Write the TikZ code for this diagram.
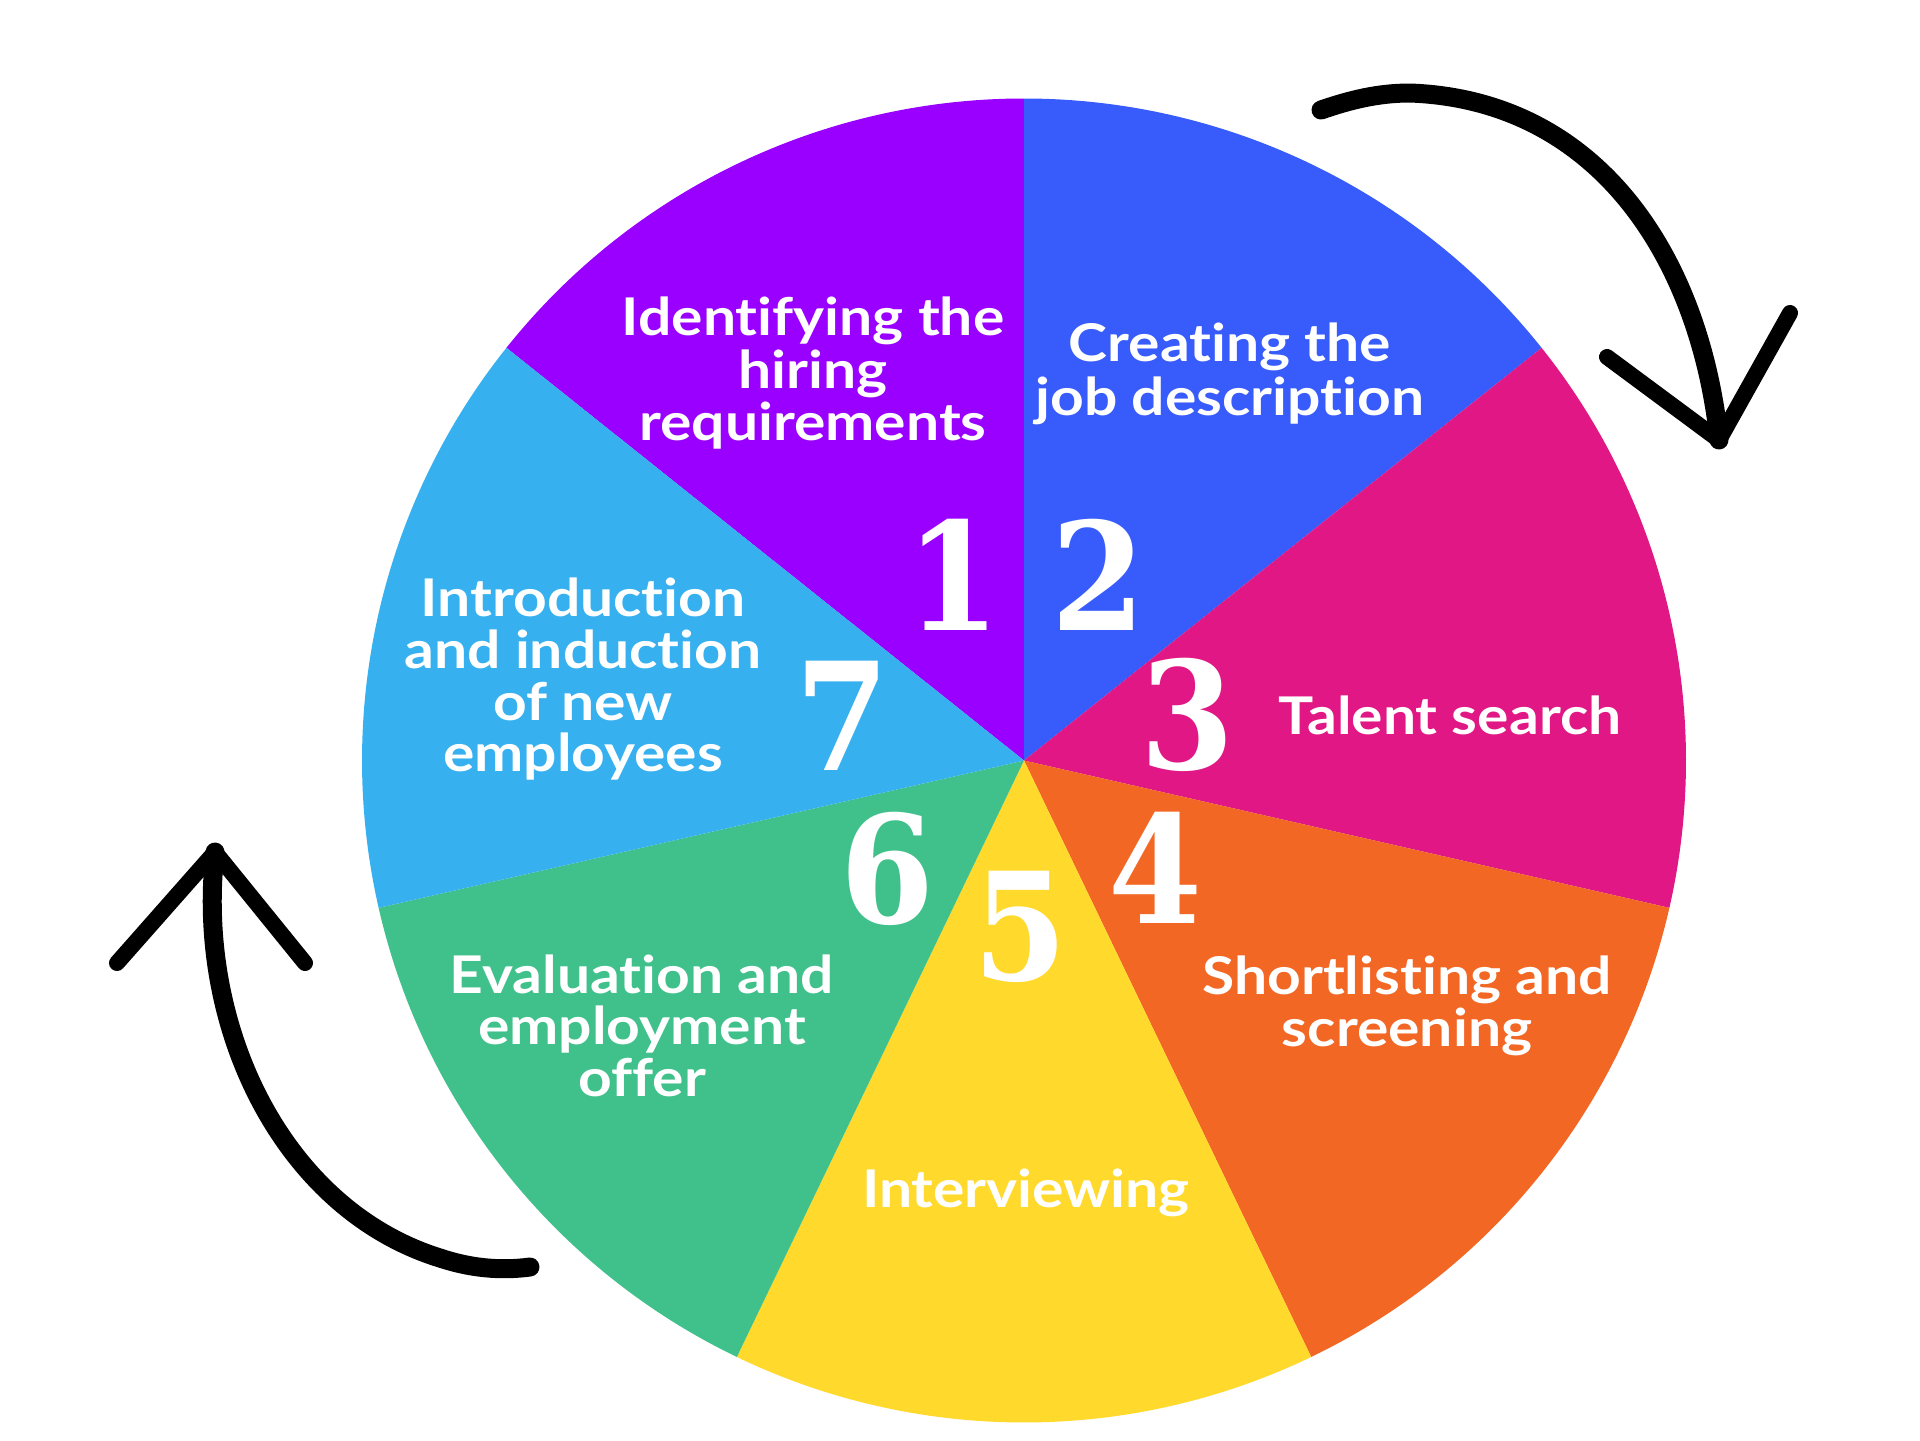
\documentclass[tikz,border=0pt]{standalone}
\usepackage{fontspec}
\newfontfamily\labelfont{Lato}[FakeStretch=1.13, Ligatures={NoCommon}]
\newfontfamily\numfont{DejaVu Serif}[FakeStretch=0.9]
\definecolor{cPurple}{HTML}{9900FF}
\definecolor{cBlue}{HTML}{375CFB}
\definecolor{cMagenta}{HTML}{E01784}
\definecolor{cOrange}{HTML}{F26724}
\definecolor{cYellow}{HTML}{FFD92B}
\definecolor{cGreen}{HTML}{40C18C}
\definecolor{cLight}{HTML}{36B0EF}
\tikzset{
  lbl/.style={anchor=base, inner sep=0pt, text=white, font=\labelfont\bfseries\fontsize{26}{26}\selectfont},
  num/.style={anchor=base, inner sep=0pt, text=white, font=\numfont\bfseries\fontsize{75}{75}\selectfont},
  handarrow/.style={line width=9.5pt, line cap=round, line join=round, black},
  handhead/.style={line width=8pt, line cap=round, line join=round, black},
}
\begin{document}
\begin{tikzpicture}[x=0.5pt,y=-0.5pt]
\useasboundingbox[fill=white] (0,0) rectangle (1920,1440);
\coordinate (C) at (1024,760.5);
% slices (visual angles, counterclockwise)
\fill[cPurple]  (C) -- ++(90:331pt) arc[start angle=90, end angle=141.43, radius=331pt] -- cycle;
\fill[cBlue]    (C) -- ++(38.57:331pt) arc[start angle=38.57, end angle=90, radius=331pt] -- cycle;
\fill[cMagenta] (C) -- ++(-12.86:331pt) arc[start angle=-12.86, end angle=38.57, radius=331pt] -- cycle;
\fill[cOrange]  (C) -- ++(-64.29:331pt) arc[start angle=-64.29, end angle=-12.86, radius=331pt] -- cycle;
\fill[cYellow]  (C) -- ++(-115.71:331pt) arc[start angle=-115.71, end angle=-64.29, radius=331pt] -- cycle;
\fill[cGreen]   (C) -- ++(-167.14:331pt) arc[start angle=-167.14, end angle=-115.71, radius=331pt] -- cycle;
\fill[cLight]   (C) -- ++(141.43:331pt) arc[start angle=141.43, end angle=192.86, radius=331pt] -- cycle;

% labels
\node[lbl] (t1a) at (813,335.7) {Identifying the};
\node[lbl] (t1b) at (813,388) {hiring};
\node[lbl] (t1c) at (813,440) {requirements};
\node[lbl] (t2a) at (1230,361.7) {Creating the};
\node[lbl] (t2b) at (1230,415) {job description};
\node[lbl] (t3a) at (1450,734) {Talent search};
\node[lbl] (t4a) at (1407,994) {Shortlisting and};
\node[lbl] (t4b) at (1407,1046) {screening};
\node[lbl] (t5a) at (1026,1207) {Interviewing};
\node[lbl] (t6a) at (642,993.3) {Evaluation and};
\node[lbl] (t6b) at (642,1044) {employment};
\node[lbl] (t6c) at (642,1096.5) {offer};
\node[lbl] (t7a) at (583,616.7) {Introduction};
\node[lbl] (t7b) at (583,668.3) {and induction};
\node[lbl] (t7c) at (583,720) {of new};
\node[lbl] (t7d) at (583,771.7) {employees};

% numbers
\node[num] (n1) at (953,630) {1};
\node[num] (n2) at (1098.5,630) {2};
\node[num] (n3) at (1187,769) {3};
\node[num] (n4) at (1155,923) {4};
\node[num] (n5) at (1020,980) {5};
\node[num] (n6) at (887,923) {6};
\node[num] (n7) at (842,770) {7};

% top-right arrow
\coordinate (a1tail) at (1321,110);
\coordinate (a1top) at (1410,93);
\coordinate (a1tip) at (1719,440);
\coordinate (a1l) at (1607,357);
\coordinate (a1r) at (1790,313);
\draw[handarrow] (a1tail) .. controls (1350,100) and (1378,93) .. (a1top)
  .. controls (1600,100) and (1700,260) .. (a1tip);
\draw[handhead] (a1l) -- (a1tip) -- (a1r);

% bottom-left arrow
\coordinate (a2tail) at (530,1267);
\coordinate (a2mid) at (440,1258);
\coordinate (a2tip) at (215,852);
\coordinate (a2l) at (117,963);
\coordinate (a2r) at (305,963);
\draw[handarrow] (a2tail) .. controls (500,1271) and (470,1268) .. (a2mid)
  .. controls (285,1210) and (195,1030) .. (a2tip);
\draw[handhead] (a2l) -- (a2tip) -- (a2r);
\end{tikzpicture}
\end{document}
